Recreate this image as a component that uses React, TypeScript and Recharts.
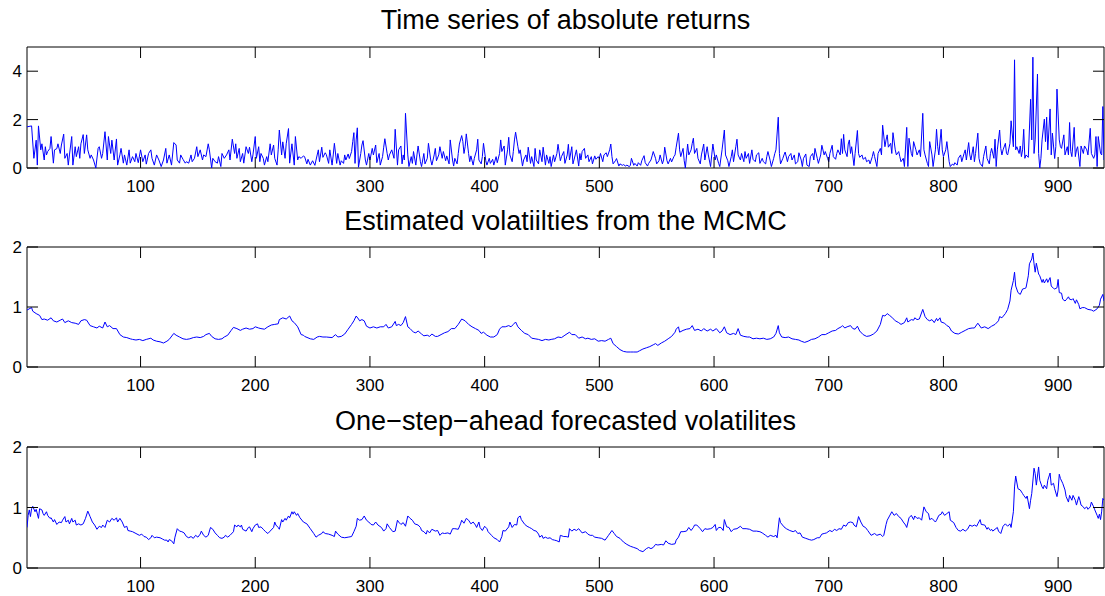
import React from "react";
import { LineChart, Line, XAxis, YAxis, ReferenceArea } from "recharts";

// ---------- data (time index, value) ----------
const X_TICKS = [100, 200, 300, 400, 500, 600, 700, 800, 900];
const ABS_Y_TICKS = [0, 2, 4];
const VOL_Y_TICKS = [0, 1, 2];
const TITLES = [
  "Time series of absolute returns",
  "Estimated volatiilties from the MCMC",
  "One\u2212step\u2212ahead forecasted volatilites",
];

const absReturns: [number, number][] = [
  [1,1.7],[5,1.74],[7,0.4],[9,1.15],[10,0.12],[11,1.74],[13,0.75],[14,1.0],[16,0.33],[17,0.88],[18,0.54],[19,0.68],[21,0.81],[22,1.3],[24,0.2],[25,0.75],[27,0.8],[28,1.0],[30,0.6],[31,0.95],[33,1.4],[34,0.4],[36,0.6],[37,0.12],[38,0.54],[40,1.3],[41,0.12],[43,0.88],[44,0.47],[46,0.88],[47,0.4],[48,1.0],[50,1.38],[51,0.6],[53,1.37],[54,0.75],[56,0.4],[57,0.54],[59,0.33],[61,0],[63,0.81],[64,0.88],[66,0.4],[67,0.6],[69,1.5],[71,0.33],[72,1.3],[74,0.6],[75,1.15],[77,0.33],[79,1.2],[80,0.12],[82,0.54],[83,0.81],[85,0.2],[86,0.54],[88,0.12],[90,0.75],[91,0.2],[93,0.47],[95,0.26],[96,0.6],[98,0.22],[100,0.75],
  [102,0.26],[104,0.54],[105,0.16],[107,0.6],[109,0.75],[110,0.4],[112,0.12],[114,0.54],[116,0.33],[118,0.06],[120,0.33],[122,0.81],[123,0.2],[125,0.54],[127,0.12],[129,1.05],[131,0.95],[132,0.33],[134,0.2],[135,0.54],[137,0.36],[139,0.2],[140,0.26],[142,0.2],[144,0.54],[145,0.26],[147,0.4],[149,0.88],[150,0.47],[152,0.75],[154,0.33],[155,0.54],[157,0.47],[159,1.0],[160,0.75],[162,0],[163,0.4],[165,0.26],[167,0.2],[168,0.47],[170,0.06],[171,0.6],[173,0.4],[175,0.54],[177,0.75],[178,0.33],[180,1.19],[182,0.6],[183,1.0],[184,0.4],[186,0.81],[187,0.26],[189,0.6],[190,0.2],[192,0.88],[194,0.6],[195,0.86],[197,0.26],[198,0.54],[200,1.3],
  [201,0.4],[203,0.88],[204,0.26],[205,0.6],[207,0.4],[208,0.12],[210,0.47],[211,0.26],[213,1.0],[214,0.54],[216,0.95],[217,0.4],[219,0.12],[220,0.75],[221,1.57],[223,0.54],[224,1.08],[226,0.4],[227,1.0],[229,1.63],[230,0.2],[232,1.0],[234,0.12],[235,1.3],[237,0.33],[238,0.47],[240,0.4],[242,0.5],[243,0.47],[245,0.17],[246,0.36],[248,0.12],[250,0.3],[252,0.11],[253,0.33],[255,0.75],[256,0.26],[258,0.86],[259,0.44],[261,0.63],[262,0.55],[264,0.19],[265,0.75],[267,0.12],[268,0.54],[269,1.02],[271,0.19],[272,0.6],[274,0.12],[275,0.3],[277,0.19],[278,0.54],[279,0.33],[281,0.58],[282,0.39],[284,0.68],[285,1.09],[286,1.46],[287,0.19],[288,1.16],[289,1.66],[290,0.03],[292,0.6],[293,0.95],[294,1.13],[296,0.33],[297,0.12],[299,0.6],[300,0.33],
  [302,0.81],[303,0.54],[305,0.95],[306,0.22],[308,0.6],[309,0.12],[311,0.47],[312,0.86],[313,1.21],[315,0.6],[316,0.33],[317,0.54],[319,0.75],[321,0.4],[322,1.6],[324,0.12],[325,0.75],[327,0.91],[328,0.17],[329,0.54],[330,0.33],[331,2.26],[333,0.54],[334,0.06],[336,0.47],[337,0.19],[338,0.68],[340,0.12],[341,0.54],[342,0.91],[344,0.26],[345,0.06],[347,0.6],[348,0.17],[350,0.4],[351,1.02],[353,0.33],[354,0.12],[356,0.54],[357,0.81],[358,0.3],[360,0.54],[361,0.88],[363,0.4],[364,0.68],[366,0.3],[367,0.5],[369,0.17],[370,1.16],[372,0.33],[373,0.08],[374,0.4],[376,0.17],[377,0.6],[378,0.99],[380,1.34],[381,1.09],[382,0.6],[383,0.88],[384,1.41],[386,0.6],[387,0.26],[388,0.5],[390,0.12],[391,0.4],[393,0.75],[394,1.19],[395,0.33],[397,0.17],[398,0.47],[399,1.02],
  [401,0.3],[402,0.12],[404,0.4],[405,0.19],[407,0.36],[408,0.12],[410,0.47],[411,0.22],[413,0.6],[414,1.16],[415,0.68],[417,0.91],[418,0.12],[420,0.75],[421,1.27],[422,0.54],[424,0.26],[425,0.68],[426,1.16],[427,1.48],[429,0.88],[430,0.6],[431,0.75],[433,0.08],[434,0.33],[436,0.54],[437,0.26],[438,0.86],[440,0.19],[441,0.47],[443,0.06],[444,0.81],[445,0.33],[447,0.17],[448,0.75],[450,0.26],[451,0.86],[453,0.12],[454,0.54],[456,0.19],[457,0.47],[458,0.06],[460,0.54],[461,0.26],[463,0.6],[464,0.98],[466,0.3],[467,0.47],[469,0.68],[470,0.19],[472,0.54],[473,0.98],[474,0.33],[476,0.88],[477,0.17],[479,0.54],[480,0.75],[482,0.08],[483,0.6],[484,0.33],[485,0.68],[487,0.81],[488,0.4],[490,0.54],[491,0.26],[493,0.47],[494,0.17],[496,0.5],[497,0.36],[499,0.47],[500,0.39],
  [501,0.6],[503,0.26],[504,0.54],[506,0.63],[507,0.47],[509,0.75],[510,0.99],[511,0.47],[512,0.17],[514,0.3],[515,0.39],[517,0.08],[518,0.17],[520,0.11],[521,0.14],[523,0.08],[524,0.12],[526,0.06],[527,0.1],[528,0.4],[530,0.11],[531,0.19],[533,0.08],[534,0.22],[536,0.11],[537,0.3],[539,0.51],[540,0.22],[542,0.08],[543,0.19],[545,0.33],[546,0.5],[547,0.68],[549,0.4],[550,0.17],[552,0.3],[553,0.54],[555,0.17],[556,0.33],[557,0.86],[559,0.3],[560,0.17],[562,0.4],[563,0.25],[565,0.47],[566,0.54],[567,0.86],[569,1.44],[570,0.75],[571,0.47],[573,0.81],[574,0.3],[575,0],[577,0.99],[578,0.54],[580,0.75],[581,1.02],[582,1.23],[583,0.6],[585,0.81],[586,0.4],[588,0.17],[589,0.54],[591,0.99],[592,0.33],[594,0.88],[595,0.54],[597,0.06],[598,0.54],[599,0.99],
  [601,0.33],[602,0.54],[604,0.19],[605,0.06],[607,0.75],[608,1.16],[609,1.57],[610,0.54],[612,0.3],[613,0.06],[615,0.47],[616,0.75],[617,0.26],[619,0.88],[620,1.19],[621,0.54],[623,0.33],[624,0.6],[626,0.26],[627,0.68],[628,0.4],[630,0.6],[631,0.19],[633,0.75],[634,0.36],[636,0.26],[637,0.54],[639,0.63],[640,0.19],[642,0.4],[643,0.26],[645,0.17],[646,0.47],[647,0.68],[649,0.3],[650,0.06],[652,0.4],[653,0.6],[654,0.75],[656,2.1],[657,0.6],[658,0.17],[660,0.4],[661,0.54],[662,0.66],[664,0.26],[665,0.47],[667,0.6],[668,0.33],[670,0.54],[671,0.17],[673,0.26],[674,0.63],[676,0.33],[677,0.06],[678,0.4],[680,0.58],[681,0.12],[683,0.06],[684,0.47],[686,0.6],[687,0.33],[688,0.81],[690,0.4],[691,0.19],[693,0.54],[694,0.94],[696,0.54],[697,0.68],[699,0.4],[700,0.26],
  [701,0.6],[703,0.94],[704,0.47],[706,0.36],[707,0.6],[708,0.75],[710,0.54],[711,1.21],[712,0.6],[713,1.39],[714,0.75],[716,0.47],[717,0.99],[718,1.16],[719,0.6],[720,0.88],[722,0.1],[723,0.6],[725,1.55],[726,0.6],[727,0.44],[729,0.54],[730,0.36],[732,0.44],[733,0.26],[735,0.33],[736,0.17],[738,0.47],[739,0.68],[740,0.47],[742,0.06],[743,0.6],[745,0.81],[746,0.54],[747,1.77],[749,0.88],[750,1.16],[751,1.37],[752,0.86],[754,1.02],[755,0.6],[756,1.46],[758,0.75],[759,0.54],[761,0.68],[762,0.47],[763,0.26],[765,0.4],[766,0.06],[768,1.68],[769,0.06],[770,1.23],[772,0.6],[773,0.47],[774,1.09],[776,0.75],[777,0.54],[779,0.75],[780,0.47],[782,2.26],[783,0.75],[784,0.54],[786,0.19],[787,0.06],[788,1.09],[790,0.54],[791,0.06],[793,0.75],[794,1.6],[795,0.88],[796,0.54],[798,1.6],[799,0.75],[800,0.47],
  [802,0.75],[803,1.09],[805,0.26],[806,0.06],[808,0.17],[809,0.11],[810,0.22],[812,0.12],[813,0.4],[815,0.54],[816,0.26],[818,0.6],[819,0.75],[820,0.33],[822,1.05],[823,0.54],[824,0.33],[826,0.88],[827,0.26],[828,0.6],[830,1.44],[831,0.4],[832,0.19],[834,0.06],[835,0.47],[837,0.91],[838,0.4],[840,0.17],[841,0.6],[842,0.81],[844,0.4],[845,1.19],[846,0.06],[847,0.75],[849,1.57],[850,0.81],[851,0.54],[852,0.75],[854,1.02],[855,0.6],[856,0.54],[858,1.02],[859,1.95],[861,0.88],[862,4.47],[863,0.75],[864,0.88],[866,0.6],[867,0.91],[868,0.47],[869,0.75],[870,1.6],[871,0.4],[872,0.54],[874,0.44],[876,2.84],[877,1.16],[878,4.58],[879,0.6],[880,1.16],[882,3.88],[883,0.6],[884,0],[885,0.4],[886,1.16],[888,2.02],[889,1.09],[890,2.1],[891,0.75],[893,2.44],[894,0.54],[895,1.44],[897,0.39],[898,0.88],[899,3.26],
  [901,1.16],[902,0.88],[903,0.81],[905,1.37],[906,0.54],[908,0.88],[909,0.54],[910,1.88],[911,0.68],[912,0.47],[914,1.68],[915,0.47],[916,0.75],[917,0.88],[919,0.06],[920,0.91],[922,0.6],[923,0.91],[925,0.75],[926,0.54],[928,1.64],[929,0.6],[931,0.4],[932,0.54],[933,1.3],[934,0.06],[935,1.3],[937,0.6],[938,0.54],[939,2.54],[940,0.33],
];

const mcmcVol: [number, number][] = [
  [1,0.95],[5,0.99],[6,0.93],[9,0.89],[12,0.86],[14,0.79],[16,0.8],[19,0.78],[22,0.82],[24,0.77],[27,0.75],[30,0.78],[32,0.8],[34,0.74],[37,0.77],[40,0.74],[43,0.73],[46,0.71],[48,0.77],[51,0.79],[53,0.78],[56,0.69],[59,0.67],[62,0.65],[64,0.68],[67,0.65],[69,0.75],[71,0.67],[73,0.69],[76,0.64],[79,0.64],[82,0.54],[85,0.5],[88,0.49],[91,0.47],[93,0.46],[96,0.45],[99,0.46],[102,0.44],[105,0.46],[109,0.48],[111,0.45],[114,0.43],[117,0.42],[120,0.4],[123,0.43],[125,0.46],[129,0.56],[131,0.53],[134,0.5],[137,0.47],[140,0.46],[143,0.47],[146,0.49],[149,0.5],[152,0.49],[155,0.51],[157,0.54],[160,0.56],[162,0.51],[165,0.47],[168,0.46],[171,0.47],[173,0.5],[176,0.53],[179,0.61],[181,0.66],[184,0.64],[187,0.61],[189,0.63],[192,0.65],[195,0.63],[198,0.64],[200,0.67],
  [203,0.65],[205,0.64],[208,0.63],[211,0.67],[214,0.7],[217,0.71],[220,0.72],[221,0.79],[224,0.82],[227,0.8],[230,0.85],[232,0.77],[234,0.74],[237,0.67],[240,0.54],[242,0.53],[243,0.51],[248,0.47],[251,0.46],[254,0.5],[256,0.51],[259,0.5],[262,0.5],[267,0.49],[270,0.54],[272,0.5],[275,0.51],[278,0.55],[281,0.63],[284,0.71],[286,0.77],[288,0.85],[290,0.8],[291,0.77],[293,0.79],[295,0.77],[297,0.68],[300,0.65],
  [303,0.67],[306,0.65],[309,0.67],[312,0.67],[314,0.71],[316,0.65],[319,0.67],[322,0.76],[323,0.69],[325,0.71],[327,0.69],[329,0.74],[331,0.84],[333,0.67],[335,0.64],[338,0.58],[340,0.57],[342,0.6],[345,0.55],[347,0.52],[350,0.53],[352,0.51],[354,0.55],[357,0.51],[359,0.51],[362,0.54],[365,0.57],[368,0.59],[371,0.64],[374,0.64],[377,0.71],[380,0.8],[383,0.77],[386,0.71],[389,0.67],[392,0.64],[395,0.61],[397,0.56],[399,0.58],
  [402,0.53],[405,0.5],[408,0.5],[411,0.54],[413,0.63],[415,0.67],[418,0.67],[421,0.69],[423,0.67],[425,0.71],[427,0.75],[429,0.67],[432,0.61],[435,0.56],[438,0.54],[441,0.48],[444,0.47],[447,0.46],[450,0.44],[453,0.46],[456,0.45],[458,0.46],[461,0.47],[464,0.5],[467,0.49],[470,0.53],[474,0.58],[476,0.54],[479,0.54],[482,0.48],[485,0.5],[488,0.47],[490,0.48],[493,0.46],[496,0.47],[499,0.43],
  [502,0.44],[505,0.43],[508,0.46],[510,0.48],[512,0.39],[515,0.34],[518,0.29],[521,0.26],[524,0.25],[527,0.25],[530,0.25],[533,0.25],[535,0.27],[538,0.3],[541,0.32],[544,0.34],[547,0.37],[549,0.39],[551,0.36],[554,0.4],[557,0.43],[560,0.47],[563,0.51],[566,0.58],[567,0.63],[569,0.67],[570,0.58],[573,0.61],[576,0.63],[579,0.64],[581,0.69],[583,0.61],[586,0.63],[589,0.6],[591,0.64],[594,0.6],[597,0.63],[599,0.6],
  [602,0.64],[605,0.57],[607,0.6],[609,0.67],[611,0.57],[614,0.54],[617,0.56],[619,0.54],[621,0.64],[623,0.53],[626,0.51],[629,0.5],[631,0.5],[634,0.47],[637,0.48],[640,0.47],[643,0.48],[646,0.46],[649,0.47],[652,0.5],[654,0.56],[656,0.69],[657,0.57],[659,0.5],[662,0.49],[665,0.5],[668,0.47],[671,0.46],[674,0.45],[676,0.43],[679,0.41],[682,0.43],[685,0.46],[688,0.47],[691,0.5],[694,0.54],[697,0.54],[700,0.57],
  [703,0.6],[706,0.61],[708,0.64],[711,0.67],[712,0.69],[714,0.65],[716,0.67],[719,0.69],[721,0.64],[723,0.63],[725,0.68],[727,0.6],[730,0.54],[733,0.51],[736,0.52],[739,0.55],[742,0.6],[745,0.71],[747,0.86],[749,0.85],[751,0.89],[753,0.86],[755,0.83],[758,0.77],[761,0.74],[763,0.71],[766,0.74],[768,0.82],[769,0.75],[772,0.79],[774,0.78],[775,0.82],[777,0.79],[779,0.8],[782,0.96],[784,0.84],[786,0.79],[788,0.77],[790,0.79],[792,0.74],[794,0.81],[795,0.77],[797,0.82],[798,0.75],
  [801,0.73],[803,0.69],[805,0.67],[807,0.6],[810,0.56],[813,0.55],[816,0.58],[819,0.61],[822,0.64],[825,0.65],[827,0.65],[830,0.73],[833,0.65],[836,0.67],[839,0.64],[842,0.68],[845,0.71],[848,0.77],[849,0.84],[851,0.82],[854,0.89],[856,0.96],[858,1.1],[859,1.28],[861,1.44],[862,1.58],[863,1.35],[865,1.24],[867,1.21],[869,1.3],[871,1.31],[872,1.32],[874,1.52],[875,1.72],[877,1.8],[878,1.9],[879,1.72],[880,1.58],[881,1.73],[883,1.55],[884,1.52],[886,1.41],[887,1.46],[888,1.4],[890,1.47],[891,1.41],[893,1.49],[894,1.35],[896,1.31],[897,1.3],[899,1.32],[900,1.46],
  [901,1.24],[903,1.23],[904,1.13],[906,1.1],[907,1.12],[909,1.17],[910,1.13],[912,1.12],[913,1.14],[915,1.06],[916,1.12],[918,1.04],[919,0.97],[921,0.99],[923,0.99],[926,0.96],[929,0.95],[931,0.93],[934,0.97],[936,1.03],[937,1.13],[939,1.21],[940,1.1],
];

const forecastVol: [number, number][] = [
  [1,0.67],[2,0.87],[3,0.96],[4,0.85],[5,0.98],[6,1.02],[8,0.93],[9,0.97],[11,0.82],[12,0.98],[14,0.96],[15,0.9],[16,0.87],[18,0.93],[19,0.87],[21,0.82],[22,0.83],[24,0.76],[25,0.8],[27,0.72],[29,0.76],[31,0.75],[32,0.79],[34,0.85],[35,0.76],[37,0.79],[38,0.73],[40,0.82],[41,0.76],[43,0.79],[44,0.71],[46,0.73],[48,0.71],[50,0.73],[52,0.82],[54,0.94],[56,0.85],[58,0.76],[60,0.71],[62,0.64],[64,0.69],[66,0.67],[67,0.71],[69,0.67],[71,0.79],[73,0.76],[75,0.82],[77,0.79],[79,0.83],[80,0.76],[82,0.82],[84,0.76],[86,0.67],[88,0.69],[89,0.62],[91,0.61],[93,0.6],[96,0.57],[99,0.54],
  [101,0.56],[103,0.52],[105,0.51],[107,0.47],[109,0.5],[110,0.54],[112,0.5],[114,0.51],[117,0.5],[119,0.48],[121,0.46],[123,0.46],[124,0.43],[125,0.47],[127,0.45],[129,0.4],[130,0.51],[132,0.65],[134,0.61],[136,0.6],[138,0.58],[140,0.52],[142,0.5],[144,0.52],[146,0.49],[148,0.54],[150,0.51],[152,0.56],[153,0.61],[155,0.54],[157,0.51],[159,0.54],[161,0.67],[163,0.64],[165,0.58],[167,0.54],[169,0.5],[171,0.49],[173,0.51],[174,0.54],[176,0.51],[178,0.54],[181,0.6],[182,0.71],[184,0.68],[185,0.71],[187,0.68],[188,0.71],[189,0.64],[192,0.61],[194,0.67],[195,0.68],[197,0.6],[198,0.65],[200,0.71],
  [202,0.73],[203,0.67],[205,0.68],[207,0.64],[209,0.6],[211,0.57],[213,0.61],[216,0.67],[217,0.76],[218,0.71],[220,0.67],[221,0.64],[223,0.8],[224,0.76],[226,0.82],[227,0.79],[229,0.86],[230,0.83],[232,0.93],[233,0.89],[234,0.93],[236,0.87],[237,0.9],[239,0.83],[242,0.76],[245,0.73],[248,0.65],[251,0.57],[253,0.51],[255,0.54],[258,0.57],[259,0.6],[261,0.57],[264,0.56],[267,0.54],[269,0.52],[270,0.61],[272,0.56],[275,0.51],[278,0.5],[281,0.51],[284,0.52],[286,0.6],[288,0.69],[289,0.82],[291,0.79],[293,0.8],[295,0.86],[297,0.79],[299,0.76],
  [301,0.72],[303,0.71],[305,0.76],[307,0.71],[310,0.67],[312,0.61],[314,0.65],[315,0.73],[317,0.67],[320,0.6],[322,0.61],[324,0.79],[325,0.76],[327,0.72],[329,0.75],[331,0.69],[333,0.86],[335,0.82],[337,0.79],[339,0.73],[342,0.71],[344,0.67],[345,0.62],[347,0.6],[349,0.56],[350,0.62],[352,0.58],[354,0.64],[357,0.61],[359,0.62],[361,0.54],[363,0.58],[365,0.57],[368,0.58],[370,0.56],[372,0.65],[374,0.65],[377,0.64],[379,0.73],[380,0.79],[382,0.74],[384,0.82],[386,0.79],[388,0.73],[390,0.76],[392,0.71],[393,0.67],[395,0.76],[396,0.67],[398,0.62],[400,0.69],
  [402,0.65],[403,0.6],[406,0.54],[408,0.5],[409,0.49],[411,0.47],[413,0.43],[415,0.52],[416,0.62],[418,0.61],[421,0.68],[422,0.76],[424,0.67],[426,0.72],[428,0.71],[429,0.83],[431,0.86],[432,0.8],[435,0.72],[437,0.69],[439,0.67],[441,0.65],[443,0.62],[445,0.61],[447,0.56],[448,0.51],[450,0.54],[451,0.49],[453,0.51],[455,0.49],[457,0.5],[459,0.47],[461,0.46],[463,0.45],[465,0.43],[466,0.54],[469,0.52],[471,0.52],[473,0.51],[474,0.65],[476,0.61],[478,0.64],[480,0.62],[482,0.65],[485,0.58],[488,0.6],[490,0.56],[492,0.54],[494,0.54],[496,0.51],[499,0.5],
  [502,0.49],[505,0.46],[508,0.54],[511,0.62],[513,0.57],[515,0.52],[518,0.49],[521,0.43],[524,0.39],[527,0.36],[530,0.34],[533,0.32],[535,0.29],[538,0.27],[541,0.32],[543,0.34],[545,0.32],[547,0.34],[549,0.39],[551,0.38],[554,0.39],[556,0.38],[558,0.45],[560,0.41],[563,0.39],[566,0.4],[567,0.46],[569,0.51],[571,0.6],[573,0.6],[576,0.61],[578,0.67],[580,0.62],[582,0.67],[583,0.71],[585,0.71],[588,0.65],[590,0.6],[592,0.65],[594,0.64],[597,0.65],[599,0.67],
  [601,0.72],[602,0.62],[604,0.67],[606,0.67],[608,0.62],[609,0.8],[611,0.68],[613,0.67],[615,0.6],[617,0.64],[620,0.65],[623,0.69],[625,0.65],[628,0.65],[631,0.64],[634,0.61],[637,0.61],[640,0.6],[642,0.58],[645,0.54],[647,0.51],[649,0.54],[652,0.52],[654,0.54],[655,0.5],[657,0.83],[658,0.75],[661,0.68],[663,0.65],[666,0.62],[669,0.6],[671,0.62],[673,0.57],[675,0.58],[677,0.51],[680,0.49],[683,0.47],[685,0.46],[687,0.47],[690,0.5],[692,0.5],[694,0.56],[696,0.57],[698,0.58],
  [701,0.62],[703,0.6],[705,0.64],[707,0.62],[709,0.65],[711,0.64],[713,0.71],[715,0.69],[717,0.75],[719,0.76],[721,0.75],[722,0.71],[724,0.68],[726,0.85],[728,0.76],[730,0.69],[732,0.67],[734,0.62],[737,0.54],[740,0.57],[742,0.54],[745,0.56],[747,0.52],[748,0.54],[750,0.72],[751,0.79],[753,0.86],[755,0.93],[757,0.87],[759,0.9],[761,0.85],[763,0.82],[765,0.76],[767,0.71],[768,0.67],[770,0.83],[772,0.87],[774,0.8],[775,0.86],[777,0.82],[779,0.83],[781,0.79],[783,1.01],[785,0.93],[787,0.9],[788,0.8],[790,0.82],[793,0.76],[794,0.79],[796,0.87],[798,0.89],[799,0.93],
  [801,0.87],[803,0.9],[805,0.93],[806,0.79],[809,0.75],[811,0.67],[813,0.62],[815,0.61],[817,0.64],[819,0.61],[821,0.64],[823,0.71],[825,0.69],[827,0.71],[829,0.69],[830,0.73],[832,0.8],[833,0.72],[836,0.71],[838,0.64],[839,0.67],[841,0.62],[842,0.64],[843,0.61],[845,0.64],[847,0.67],[848,0.61],[850,0.57],[852,0.69],[854,0.73],[856,0.69],[858,0.73],[859,0.67],[861,0.93],[862,1.34],[863,1.52],[865,1.31],[867,1.29],[869,1.23],[870,1.2],[872,1.15],[873,1.19],[875,0.98],[876,1.12],[877,1.23],[879,1.65],[880,1.56],[881,1.37],[883,1.67],[884,1.45],[886,1.34],[887,1.31],[888,1.37],[890,1.31],[891,1.45],[893,1.57],[894,1.37],[896,1.4],[897,1.31],[899,1.18],[900,1.29],
  [901,1.55],[902,1.48],[904,1.4],[906,1.29],[907,1.18],[909,1.09],[910,1.2],[912,1.12],[913,1.2],[915,1.12],[916,1.04],[918,1.18],[919,1.12],[920,1.04],[922,1.01],[923,0.98],[925,1.01],[926,0.97],[928,1.01],[929,1.09],[931,1.01],[932,0.96],[934,0.87],[935,0.82],[936,0.89],[937,0.8],[938,0.94],[939,1.15],[940,1.12],
];

// ---------- layout / style ----------
const W = 1105;
const FONT = "'Liberation Sans', Arial, Helvetica, sans-serif";
const FRAME = "#000000";
const LINE = "#0000ff";
const TICK_LEN = 11;
const PLOT_LEFT = 27;
const PLOT_RIGHT_MARGIN = 1;
const PLOT_W = W - PLOT_LEFT - PLOT_RIGHT_MARGIN;

const toRows = (pts: [number, number][]) => pts.map(([t, v]) => ({ t, v }));

function makeXTick(plotH: number) {
  return (props: any) => {
    const { x, y, payload } = props;
    return (
      <g>
        <line x1={x} x2={x} y1={y} y2={y - TICK_LEN} stroke={FRAME} strokeWidth={1} />
        <line x1={x} x2={x} y1={y - plotH} y2={y - plotH + TICK_LEN} stroke={FRAME} strokeWidth={1} />
        <text x={x} y={y + 24} textAnchor="middle" fontSize={17} fontFamily={FONT} fill="#000">
          {payload.value}
        </text>
      </g>
    );
  };
}

function makeYTick() {
  return (props: any) => {
    const { x, y, payload } = props;
    return (
      <g>
        <line x1={x} x2={x + TICK_LEN} y1={y} y2={y} stroke={FRAME} strokeWidth={1} />
        <line x1={x + PLOT_W} x2={x + PLOT_W - TICK_LEN} y1={y} y2={y} stroke={FRAME} strokeWidth={1} />
        <text x={x - 5} y={y + 6} textAnchor="end" fontSize={17} fontFamily={FONT} fill="#000">
          {payload.value}
        </text>
      </g>
    );
  };
}

type PanelProps = {
  top: number;
  height: number;
  marginTop: number;
  plotH: number;
  rows: { t: number; v: number }[];
  yMax: number;
  yTicks: number[];
};

function Panel({ top, height, marginTop, plotH, rows, yMax, yTicks }: PanelProps) {
  const xAxisH = height - marginTop - plotH;
  return (
    <div style={{ position: "absolute", left: 0, top }}>
      <LineChart
        width={W}
        height={height}
        data={rows}
        margin={{ top: marginTop, right: PLOT_RIGHT_MARGIN, bottom: 0, left: 0 }}
      >
        <XAxis
          dataKey="t"
          type="number"
          domain={[1, 940]}
          allowDataOverflow
          ticks={X_TICKS}
          interval={0}
          height={xAxisH}
          axisLine={false}
          tickLine={false}
          tickSize={0}
          tickMargin={0}
          tick={makeXTick(plotH)}
        />
        <YAxis
          type="number"
          domain={[0, yMax]}
          allowDataOverflow
          ticks={yTicks}
          interval={0}
          width={PLOT_LEFT}
          axisLine={false}
          tickLine={false}
          tickSize={0}
          tickMargin={0}
          tick={makeYTick()}
        />
        <ReferenceArea x1={1} x2={940} y1={0} y2={yMax} fill="none" stroke={FRAME} strokeWidth={1} fillOpacity={0} />
        <Line
          type="linear"
          dataKey="v"
          stroke={LINE}
          strokeWidth={1}
          dot={false}
          activeDot={false}
          isAnimationActive={false}
        />
      </LineChart>
    </div>
  );
}

export default function App() {
  const titleX = PLOT_LEFT + PLOT_W / 2;
  return (
    <div style={{ position: "absolute", left: 0, top: 0, width: W, height: 596, background: "#fff", overflow: "hidden" }}>
      <Panel top={0} height={200} marginTop={47} plotH={121} rows={toRows(absReturns)} yMax={5} yTicks={ABS_Y_TICKS} />
      <Panel top={200} height={200} marginTop={47} plotH={120} rows={toRows(mcmcVol)} yMax={2} yTicks={VOL_Y_TICKS} />
      <Panel top={400} height={196} marginTop={47} plotH={121} rows={toRows(forecastVol)} yMax={2} yTicks={VOL_Y_TICKS} />
      <svg width={W} height={596} style={{ position: "absolute", left: 0, top: 0, pointerEvents: "none" }}>
        <text x={titleX} y={29} textAnchor="middle" fontSize={27} fontFamily={FONT} fill="#000">{TITLES[0]}</text>
        <text x={titleX} y={230} textAnchor="middle" fontSize={27} fontFamily={FONT} fill="#000">{TITLES[1]}</text>
        <text x={titleX} y={430} textAnchor="middle" fontSize={27} fontFamily={FONT} fill="#000">{TITLES[2]}</text>
      </svg>
    </div>
  );
}
